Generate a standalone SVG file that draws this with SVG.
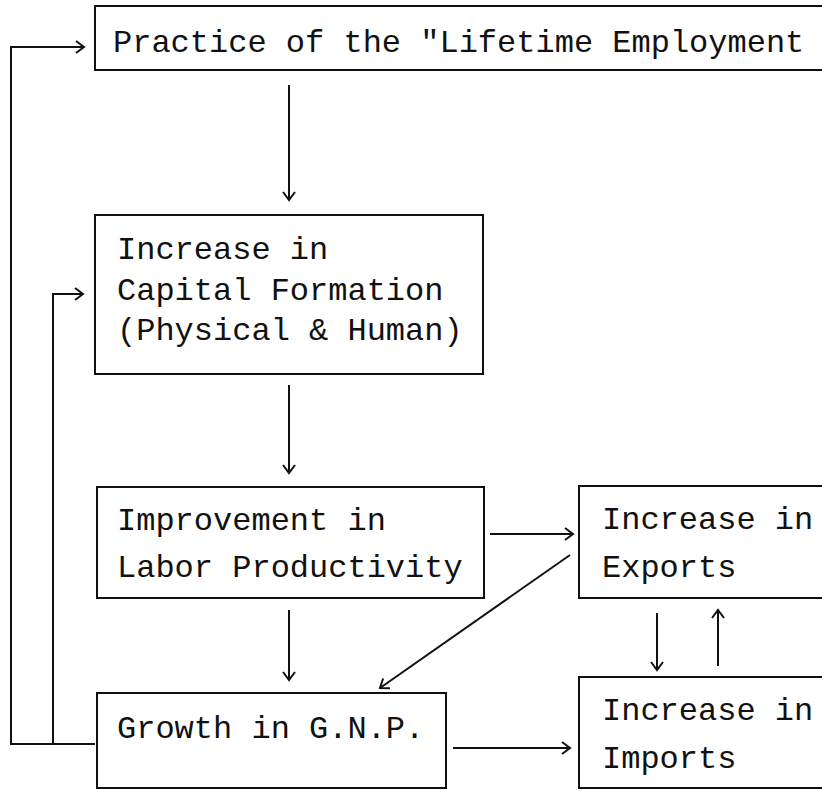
<svg xmlns="http://www.w3.org/2000/svg" width="822" height="790" viewBox="0 0 822 790">
<defs>
<style>
.box{fill:none;stroke:#111;stroke-width:2}
.t{font-family:"Liberation Mono","Courier New",monospace;font-size:32px;fill:#111}
.c{fill:none;stroke:#111;stroke-width:2}
</style>
<marker id="ah" viewBox="-12 -8 14 16" markerWidth="14" markerHeight="16" refX="0" refY="0" orient="auto" markerUnits="userSpaceOnUse">
<path d="M-8,-6 L0,0 L-8,6" fill="none" stroke="#111" stroke-width="2"/>
</marker>
</defs>
<rect width="822" height="790" fill="#fff"/>
<g id="n-lifetime">
<rect class="box" x="95" y="6" width="740" height="64"/>
<text class="t" x="113" y="52">Practice of the "Lifetime Employment</text>
</g>
<g id="n-capital">
<rect class="box" x="95" y="215" width="388" height="159"/>
<text class="t" x="117" y="259">Increase in</text>
<text class="t" x="117" y="300">Capital Formation</text>
<text class="t" x="117" y="340">(Physical &amp; Human)</text>
</g>
<g id="n-labor">
<rect class="box" x="97" y="487" width="387" height="111"/>
<text class="t" x="117" y="530">Improvement in</text>
<text class="t" x="117" y="577">Labor Productivity</text>
</g>
<g id="n-gnp">
<rect class="box" x="97" y="693" width="349" height="95"/>
<text class="t" x="117" y="738">Growth in G.N.P.</text>
</g>
<g id="n-exports">
<rect class="box" x="579" y="486" width="260" height="112"/>
<text class="t" x="602" y="529">Increase in</text>
<text class="t" x="602" y="577">Exports</text>
</g>
<g id="n-imports">
<rect class="box" x="579" y="677" width="260" height="111"/>
<text class="t" x="602" y="720">Increase in</text>
<text class="t" x="602" y="768">Imports</text>
</g>
<g id="connectors">
<polyline class="c" points="95,744 11,744 11,47 84,47" marker-end="url(#ah)"/>
<polyline class="c" points="53,744 53,294 83,294" marker-end="url(#ah)"/>
<line class="c" x1="289" y1="85" x2="289" y2="200" marker-end="url(#ah)"/>
<line class="c" x1="289" y1="385" x2="289" y2="473" marker-end="url(#ah)"/>
<line class="c" x1="289" y1="610" x2="289" y2="680" marker-end="url(#ah)"/>
<line class="c" x1="490" y1="534" x2="573" y2="534" marker-end="url(#ah)"/>
<line class="c" x1="570" y1="555" x2="380" y2="688" marker-end="url(#ah)"/>
<line class="c" x1="657" y1="613" x2="657" y2="670" marker-end="url(#ah)"/>
<line class="c" x1="718" y1="666" x2="718" y2="610" marker-end="url(#ah)"/>
<line class="c" x1="453" y1="748" x2="570" y2="748" marker-end="url(#ah)"/>
</g>
</svg>
